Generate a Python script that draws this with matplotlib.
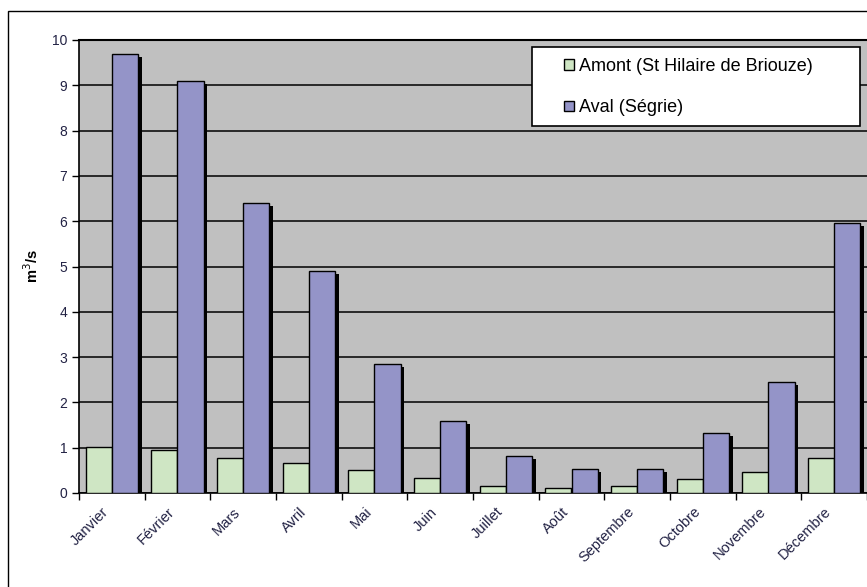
import matplotlib.pyplot as plt
import matplotlib.transforms as mtransforms
from matplotlib.patches import Rectangle
import numpy as np

plt.rcParams['font.family'] = ['Liberation Sans', 'DejaVu Sans']

mois = ['Janvier', 'Février', 'Mars', 'Avril', 'Mai', 'Juin', 'Juillet',
        'Août', 'Septembre', 'Octobre', 'Novembre', 'Décembre']
amont = [1.02, 0.95, 0.78, 0.67, 0.5, 0.34, 0.15, 0.1, 0.15, 0.3, 0.46, 0.78]
aval = [9.7, 9.1, 6.4, 4.9, 2.85, 1.6, 0.82, 0.53, 0.53, 1.33, 2.45, 5.95]

vert = '#cfe6c4'
violet = '#9494c8'
texte = '#222244'

W, H = 867, 587
fig = plt.figure(figsize=(W / 100, H / 100), dpi=100)
ax = fig.add_axes([79 / W, 1 - 493 / H, 788 / W, 453 / H])
ax.set_facecolor('#c0c0c0')

# cadre extérieur du graphique
fig.add_artist(Rectangle((8 / W, -0.05), 1.0, 1 - 11 / H + 0.05,
                         transform=fig.transFigure, fill=False,
                         edgecolor='black', linewidth=1.0, clip_on=False))

x = np.arange(len(mois))
w = 0.4
ombre = mtransforms.offset_copy(ax.transData, fig=fig, x=3.5, y=-3, units='dots')

for vals, dx, col in [(amont, -w / 2, vert), (aval, w / 2, violet)]:
    ax.bar(x + dx, vals, w, color='black', transform=ombre, zorder=2)
    ax.bar(x + dx, vals, w, color=col, edgecolor='black', linewidth=1.0,
           zorder=3)

ax.set_xlim(-0.5, len(mois) - 0.5)
ax.set_ylim(0, 10)
ax.set_yticks(range(0, 11))
ax.yaxis.grid(True, color='black', linewidth=1.1)
ax.set_axisbelow(True)

ax.set_xticks(np.arange(-0.5, len(mois)), minor=False)
ax.set_xticklabels([])
ax.set_xticks(x, minor=True)
ax.set_xticklabels(mois, minor=True, rotation=45, ha='right', va='center',
                   rotation_mode='anchor', fontsize=10.5, color=texte)
ax.tick_params(axis='x', which='minor', length=0, pad=12)
ax.tick_params(axis='x', which='major', length=5, direction='out', width=1)
ax.tick_params(axis='y', length=5, direction='out', width=1, labelsize=10,
               labelcolor=texte)
decal = mtransforms.ScaledTranslation(-5 / 100, 0, fig.dpi_scale_trans)
for lab in ax.get_xticklabels(minor=True):
    lab.set_transform(lab.get_transform() + decal)

for s in ['top', 'right']:
    ax.spines[s].set_visible(False)
ax.spines['left'].set_linewidth(1.2)
ax.spines['bottom'].set_linewidth(1.2)
ax.plot([0, 1], [1, 1], transform=ax.transAxes, color='black', lw=1.5,
        clip_on=False, zorder=4)

ax.set_ylabel('m$^3$/s', fontsize=10.5, fontweight='bold', labelpad=8)

# légende : cadre blanc dessiné à part, entrées posées dedans
ax.add_patch(Rectangle(((532 - 79) / 788, (493 - 126) / 453), 328 / 788, 79 / 453,
                       transform=ax.transAxes, facecolor='white',
                       edgecolor='black', linewidth=1.2, zorder=5,
                       clip_on=False))
poignees = [Rectangle((0, 0), 1, 1, facecolor=vert, edgecolor='black'),
            Rectangle((0, 0), 1, 1, facecolor=violet, edgecolor='black')]
leg = ax.legend(handles=poignees,
                labels=['Amont (St Hilaire de Briouze)', 'Aval (Ségrie)'],
                loc='upper left', bbox_to_anchor=((564 - 79) / 788, (493 - 58) / 453),
                fontsize=13, frameon=False, handlelength=0.55,
                handleheight=0.55, handletextpad=0.3, labelspacing=1.35,
                borderpad=0, borderaxespad=0)
leg.set_zorder(6)

fig.savefig('out.png', dpi=100)
